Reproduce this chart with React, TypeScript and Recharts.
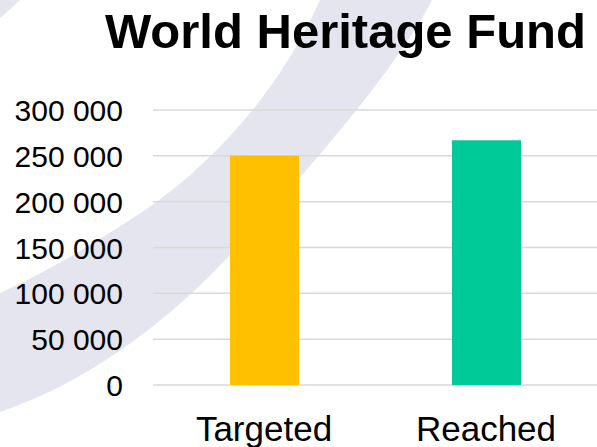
import { BarChart, Bar, XAxis, YAxis, CartesianGrid, Cell } from 'recharts';

const categories = ['Targeted', 'Reached'];
const values = [250000, 267000];
const yTicks = [0, 50000, 100000, 150000, 200000, 250000, 300000];
const yTickLabels = ['0', '50 000', '100 000', '150 000', '200 000', '250 000', '300 000'];

const barColors = ['#FFC000', '#00CA98'];
const FONT = '"Liberation Sans", Arial, sans-serif';

const data = categories.map((name, i) => ({ name, value: values[i] }));

const YTick = ({ x, y, payload }: any) => {
    const idx = yTicks.indexOf(payload.value);
    return (
        <text x={x - 30} y={y} dy={11} textAnchor="end" fontSize={30} fontFamily={FONT} fill="#000">
            {yTickLabels[idx]}
        </text>
    );
};

const XTick = ({ x, y, payload }: any) => (
    <text x={x} y={y + 56} textAnchor="middle" fontSize={35} fontFamily={FONT} fill="#000">
        {payload.value}
    </text>
);

export default function App() {
    return (
        <div style={{ position: 'absolute', left: 0, top: 0, width: 597, height: 447, background: '#fff', overflow: 'hidden' }}>
            {/* decorative arc behind the chart */}
            <svg width={597} height={447} style={{ position: 'absolute', left: 0, top: 0 }}>
                <path
                    d="M 320 0 C 280 90, 210 170, 130 220 C 80 252, 40 275, 0 293 L 0 412 C 80 385, 160 330, 230 255 C 290 190, 390 80, 432 0 Z"
                    fill="#E4E5EE"
                />
                <path d="M 0 0 L 20 0 Q 10 10 0 18 Z" fill="#E4E5EE" />
            </svg>
            <div style={{ position: 'absolute', left: 0, top: 0 }}>
                <BarChart width={597} height={447} data={data} margin={{ top: 110, right: 0, left: 0, bottom: 0 }}>
                    <CartesianGrid vertical={false} stroke="#D9D9D9" strokeWidth={1.5} />
                    <XAxis dataKey="name" axisLine={false} tickLine={false} tickSize={0} tickMargin={0} height={62} tick={<XTick />} interval={0} />
                    <YAxis
                        domain={[0, 300000]}
                        ticks={yTicks}
                        axisLine={false}
                        tickLine={false}
                        tickSize={0}
                        tickMargin={0}
                        width={153}
                        tick={<YTick />}
                        interval={0}
                    />
                    <Bar dataKey="value" barSize={69} isAnimationActive={false}>
                        {data.map((d, i) => (
                            <Cell key={d.name} fill={barColors[i]} />
                        ))}
                    </Bar>
                </BarChart>
            </div>
            <svg width={597} height={70} style={{ position: 'absolute', left: 0, top: 0 }}>
                <text x={105} y={48} fontSize={49} fontWeight="bold" fontFamily={FONT} fill="#000">
                    World Heritage Fund
                </text>
            </svg>
        </div>
    );
}
